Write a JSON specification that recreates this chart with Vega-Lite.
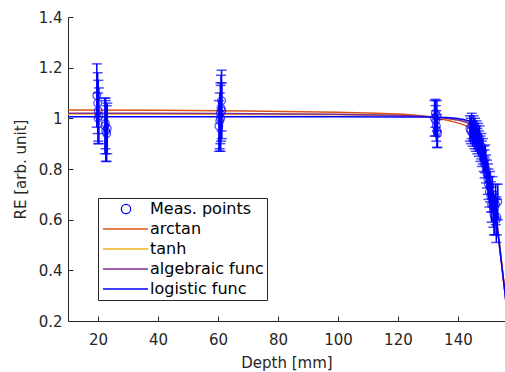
{
  "$schema": "https://vega.github.io/schema/vega-lite/v6.json",
  "width": 437,
  "height": 304,
  "autosize": {"type": "none"},
  "padding": {"left": 68, "top": 17, "right": 0, "bottom": 51},
  "background": "white",
  "config": {
    "view": {"stroke": null},
    "font": "DejaVu Sans",
    "axis": {
      "grid": false,
      "domainColor": "#262626",
      "tickColor": "#262626",
      "labelColor": "#262626",
      "titleColor": "#262626",
      "labelFontSize": 15,
      "titleFontSize": 15,
      "titleFontWeight": "normal",
      "tickSize": -5,
      "domainWidth": 1
    }
  },
  "datasets": {
    "fits": [
      {"x": 10, "y": 1.033, "series": "arctan"},
      {"x": 40, "y": 1.032, "series": "arctan"},
      {"x": 70, "y": 1.029, "series": "arctan"},
      {"x": 100, "y": 1.024, "series": "arctan"},
      {"x": 115, "y": 1.019, "series": "arctan"},
      {"x": 125, "y": 1.013, "series": "arctan"},
      {"x": 130, "y": 1.006, "series": "arctan"},
      {"x": 135, "y": 0.996, "series": "arctan"},
      {"x": 139, "y": 0.985, "series": "arctan"},
      {"x": 142, "y": 0.974, "series": "arctan"},
      {"x": 144, "y": 0.962, "series": "arctan"},
      {"x": 146, "y": 0.938, "series": "arctan"},
      {"x": 147, "y": 0.918, "series": "arctan"},
      {"x": 148, "y": 0.89, "series": "arctan"},
      {"x": 149, "y": 0.853, "series": "arctan"},
      {"x": 150, "y": 0.805, "series": "arctan"},
      {"x": 151, "y": 0.745, "series": "arctan"},
      {"x": 152, "y": 0.675, "series": "arctan"},
      {"x": 153, "y": 0.59, "series": "arctan"},
      {"x": 154, "y": 0.49, "series": "arctan"},
      {"x": 155, "y": 0.385, "series": "arctan"},
      {"x": 155.7, "y": 0.31, "series": "arctan"},
      {"x": 156.5, "y": 0.22, "series": "arctan"},
      {"x": 10, "y": 1.017, "series": "tanh"},
      {"x": 60, "y": 1.016, "series": "tanh"},
      {"x": 100, "y": 1.014, "series": "tanh"},
      {"x": 125, "y": 1.008, "series": "tanh"},
      {"x": 135, "y": 1.001, "series": "tanh"},
      {"x": 140, "y": 0.994, "series": "tanh"},
      {"x": 144, "y": 0.982, "series": "tanh"},
      {"x": 146, "y": 0.958, "series": "tanh"},
      {"x": 148, "y": 0.9, "series": "tanh"},
      {"x": 150, "y": 0.802, "series": "tanh"},
      {"x": 152, "y": 0.672, "series": "tanh"},
      {"x": 154, "y": 0.487, "series": "tanh"},
      {"x": 155.7, "y": 0.31, "series": "tanh"},
      {"x": 156.5, "y": 0.22, "series": "tanh"},
      {"x": 10, "y": 1.02, "series": "algebraic func"},
      {"x": 60, "y": 1.019, "series": "algebraic func"},
      {"x": 100, "y": 1.016, "series": "algebraic func"},
      {"x": 125, "y": 1.01, "series": "algebraic func"},
      {"x": 135, "y": 1.002, "series": "algebraic func"},
      {"x": 140, "y": 0.993, "series": "algebraic func"},
      {"x": 144, "y": 0.978, "series": "algebraic func"},
      {"x": 146, "y": 0.955, "series": "algebraic func"},
      {"x": 148, "y": 0.9, "series": "algebraic func"},
      {"x": 150, "y": 0.803, "series": "algebraic func"},
      {"x": 152, "y": 0.672, "series": "algebraic func"},
      {"x": 154, "y": 0.487, "series": "algebraic func"},
      {"x": 155.7, "y": 0.31, "series": "algebraic func"},
      {"x": 156.5, "y": 0.22, "series": "algebraic func"},
      {"x": 10, "y": 1.006, "series": "logistic func"},
      {"x": 60, "y": 1.006, "series": "logistic func"},
      {"x": 100, "y": 1.006, "series": "logistic func"},
      {"x": 130, "y": 1.005, "series": "logistic func"},
      {"x": 136, "y": 1.003, "series": "logistic func"},
      {"x": 140, "y": 0.999, "series": "logistic func"},
      {"x": 142, "y": 0.995, "series": "logistic func"},
      {"x": 144, "y": 0.988, "series": "logistic func"},
      {"x": 145, "y": 0.978, "series": "logistic func"},
      {"x": 146, "y": 0.962, "series": "logistic func"},
      {"x": 147, "y": 0.935, "series": "logistic func"},
      {"x": 148, "y": 0.9, "series": "logistic func"},
      {"x": 149, "y": 0.855, "series": "logistic func"},
      {"x": 150, "y": 0.8, "series": "logistic func"},
      {"x": 151, "y": 0.74, "series": "logistic func"},
      {"x": 152, "y": 0.67, "series": "logistic func"},
      {"x": 153, "y": 0.58, "series": "logistic func"},
      {"x": 154, "y": 0.48, "series": "logistic func"},
      {"x": 155, "y": 0.38, "series": "logistic func"},
      {"x": 155.7, "y": 0.31, "series": "logistic func"},
      {"x": 156.5, "y": 0.22, "series": "logistic func"}
    ],
    "pts": [
      {"x": 19.6, "y": 1.09, "e": 0.125, "series": "Meas. points"},
      {"x": 19.9, "y": 1.06, "e": 0.12, "series": "Meas. points"},
      {"x": 20.1, "y": 1.03, "e": 0.12, "series": "Meas. points"},
      {"x": 20.3, "y": 1.01, "e": 0.11, "series": "Meas. points"},
      {"x": 20.0, "y": 1.0, "e": 0.1, "series": "Meas. points"},
      {"x": 22.3, "y": 0.97, "e": 0.11, "series": "Meas. points"},
      {"x": 22.6, "y": 0.95, "e": 0.12, "series": "Meas. points"},
      {"x": 22.9, "y": 0.94, "e": 0.11, "series": "Meas. points"},
      {"x": 23.1, "y": 0.96, "e": 0.1, "series": "Meas. points"},
      {"x": 22.5, "y": 0.98, "e": 0.1, "series": "Meas. points"},
      {"x": 60.3, "y": 0.97, "e": 0.1, "series": "Meas. points"},
      {"x": 60.6, "y": 0.99, "e": 0.11, "series": "Meas. points"},
      {"x": 60.8, "y": 1.02, "e": 0.12, "series": "Meas. points"},
      {"x": 61.0, "y": 1.04, "e": 0.13, "series": "Meas. points"},
      {"x": 61.2, "y": 1.07, "e": 0.12, "series": "Meas. points"},
      {"x": 60.9, "y": 1.0, "e": 0.13, "series": "Meas. points"},
      {"x": 61.3, "y": 1.03, "e": 0.11, "series": "Meas. points"},
      {"x": 132.2, "y": 1.0, "e": 0.07, "series": "Meas. points"},
      {"x": 132.5, "y": 1.02, "e": 0.055, "series": "Meas. points"},
      {"x": 132.8, "y": 0.97, "e": 0.06, "series": "Meas. points"},
      {"x": 133.0, "y": 0.95, "e": 0.065, "series": "Meas. points"},
      {"x": 133.2, "y": 0.94, "e": 0.055, "series": "Meas. points"},
      {"x": 132.6, "y": 0.99, "e": 0.06, "series": "Meas. points"},
      {"x": 133.0, "y": 1.01, "e": 0.06, "series": "Meas. points"},
      {"x": 144.0, "y": 0.96, "e": 0.05, "series": "Meas. points"},
      {"x": 144.3, "y": 0.95, "e": 0.05, "series": "Meas. points"},
      {"x": 144.6, "y": 0.97, "e": 0.05, "series": "Meas. points"},
      {"x": 144.9, "y": 0.94, "e": 0.05, "series": "Meas. points"},
      {"x": 145.2, "y": 0.96, "e": 0.05, "series": "Meas. points"},
      {"x": 145.5, "y": 0.93, "e": 0.05, "series": "Meas. points"},
      {"x": 145.7, "y": 0.95, "e": 0.05, "series": "Meas. points"},
      {"x": 146.0, "y": 0.92, "e": 0.05, "series": "Meas. points"},
      {"x": 146.2, "y": 0.94, "e": 0.05, "series": "Meas. points"},
      {"x": 146.5, "y": 0.91, "e": 0.05, "series": "Meas. points"},
      {"x": 146.7, "y": 0.93, "e": 0.05, "series": "Meas. points"},
      {"x": 147.0, "y": 0.9, "e": 0.05, "series": "Meas. points"},
      {"x": 147.2, "y": 0.92, "e": 0.05, "series": "Meas. points"},
      {"x": 147.5, "y": 0.88, "e": 0.05, "series": "Meas. points"},
      {"x": 147.8, "y": 0.89, "e": 0.05, "series": "Meas. points"},
      {"x": 148.0, "y": 0.86, "e": 0.05, "series": "Meas. points"},
      {"x": 148.3, "y": 0.87, "e": 0.05, "series": "Meas. points"},
      {"x": 148.6, "y": 0.84, "e": 0.05, "series": "Meas. points"},
      {"x": 148.9, "y": 0.82, "e": 0.055, "series": "Meas. points"},
      {"x": 149.1, "y": 0.84, "e": 0.055, "series": "Meas. points"},
      {"x": 149.4, "y": 0.8, "e": 0.055, "series": "Meas. points"},
      {"x": 149.7, "y": 0.78, "e": 0.055, "series": "Meas. points"},
      {"x": 150.0, "y": 0.76, "e": 0.06, "series": "Meas. points"},
      {"x": 150.2, "y": 0.74, "e": 0.06, "series": "Meas. points"},
      {"x": 150.5, "y": 0.71, "e": 0.06, "series": "Meas. points"},
      {"x": 150.7, "y": 0.73, "e": 0.06, "series": "Meas. points"},
      {"x": 151.0, "y": 0.69, "e": 0.06, "series": "Meas. points"},
      {"x": 151.2, "y": 0.66, "e": 0.07, "series": "Meas. points"},
      {"x": 151.5, "y": 0.7, "e": 0.07, "series": "Meas. points"},
      {"x": 151.8, "y": 0.64, "e": 0.07, "series": "Meas. points"},
      {"x": 152.0, "y": 0.62, "e": 0.08, "series": "Meas. points"},
      {"x": 152.3, "y": 0.61, "e": 0.07, "series": "Meas. points"},
      {"x": 152.6, "y": 0.66, "e": 0.08, "series": "Meas. points"},
      {"x": 152.8, "y": 0.6, "e": 0.09, "series": "Meas. points"},
      {"x": 153.0, "y": 0.61, "e": 0.07, "series": "Meas. points"},
      {"x": 153.3, "y": 0.67, "e": 0.07, "series": "Meas. points"}
    ]
  },
  "layer": [
    {
      "data": {"name": "fits"},
      "mark": {"type": "line", "clip": true, "strokeWidth": 1.5, "interpolate": "monotone"},
      "encoding": {
        "x": {"field": "x", "type": "quantitative", "title": "Depth [mm]",
              "scale": {"domain": [10, 155.7], "nice": false, "zero": false},
              "axis": {"values": [20, 40, 60, 80, 100, 120, 140], "labelPadding": 16, "titlePadding": 8}},
        "y": {"field": "y", "type": "quantitative", "title": "RE [arb. unit]",
              "scale": {"domain": [0.2, 1.4], "nice": false, "zero": false},
              "axis": {"values": [0.2, 0.4, 0.6, 0.8, 1, 1.2, 1.4], "format": "~g", "labelPadding": 11, "titlePadding": 10}},
        "color": {"field": "series", "type": "nominal",
                  "scale": {"domain": ["Meas. points", "arctan", "tanh", "algebraic func", "logistic func"],
                            "range": ["#0000FF", "#D95319", "#EDB120", "#7E2F8E", "#0000FF"]},
                  "legend": {"title": null, "orient": "none", "legendX": 30, "legendY": 181,
                             "labelFontSize": 16, "labelColor": "#000000", "labelFont": "DejaVu Sans",
                             "strokeColor": "#262626", "fillColor": "white", "padding": 3,
                             "symbolSize": 100, "rowPadding": 4, "labelOffset": 33,
                             "encode": {"symbols": {"update": {
                               "size": {"value": 100},
                               "shape": {"signal": "datum.value === 'Meas. points' ? 'M4.34,0A0.94,0.94,0,1,1,2.46,0A0.94,0.94,0,1,1,4.34,0Z' : 'M-1.2,0H7.8'"},
                               "fill": {"value": "transparent"},
                               "stroke": {"signal": "scale('color', datum.value)"},
                               "strokeWidth": {"signal": "datum.value === 'Meas. points' ? 1.2 : 1.5"},
                               "opacity": {"value": 1}}}}}}
      }
    },
    {
      "data": {"name": "pts"},
      "mark": {"type": "errorbar", "ticks": {"size": 10}, "color": "#0000FF", "thickness": 1.5},
      "encoding": {
        "x": {"field": "x", "type": "quantitative", "title": "Depth [mm]"},
        "y": {"field": "y", "type": "quantitative", "title": "RE [arb. unit]"},
        "yError": {"field": "e"}
      }
    },
    {
      "data": {"name": "pts"},
      "mark": {"type": "point", "filled": false, "size": 60, "strokeWidth": 1.2},
      "encoding": {
        "x": {"field": "x", "type": "quantitative", "title": "Depth [mm]"},
        "y": {"field": "y", "type": "quantitative", "title": "RE [arb. unit]"},
        "color": {"field": "series", "type": "nominal"}
      }
    }
  ]
}
